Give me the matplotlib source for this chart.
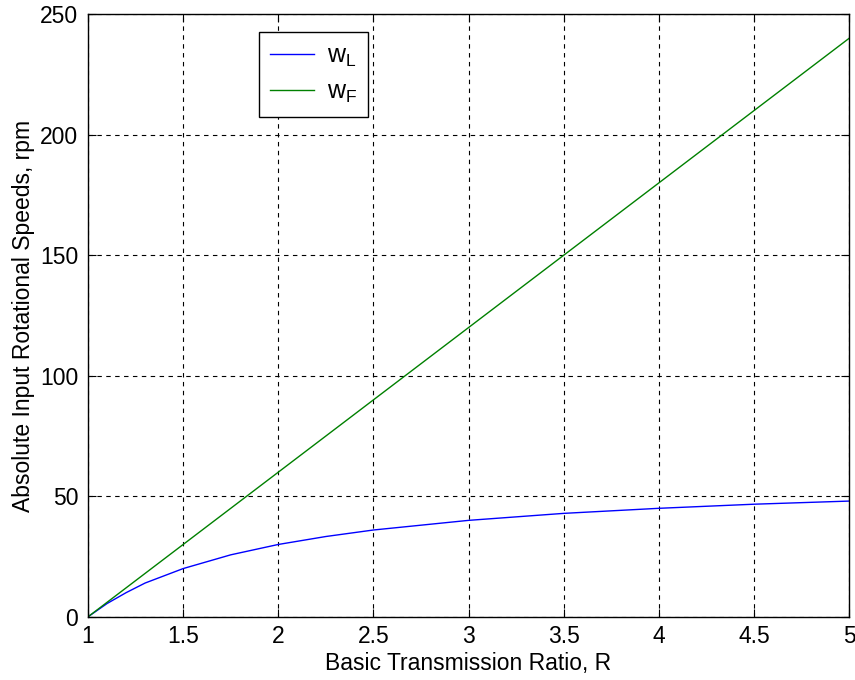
import matplotlib.pyplot as plt

plt.rcParams["font.family"] = ["Liberation Sans", "DejaVu Sans"]

R = [1.0, 1.1, 1.2, 1.3, 1.5, 1.75, 2.0, 2.25, 2.5, 3.0, 3.5, 4.0, 4.5, 5.0]
wL = [0, 5.5, 10, 14, 20, 25.7, 30, 33.3, 36, 40, 42.9, 45, 46.7, 48]
wF = [0, 6, 12, 18, 30, 45, 60, 75, 90, 120, 150, 180, 210, 240]

fs = 16.5

fig = plt.figure(figsize=(8.55, 6.8), dpi=100)
ax = fig.add_axes([0.103, 0.093, 0.890, 0.886])

ax.plot(R, wL, color="#0000ff", lw=1, label=r"w$_\mathregular{L}$")
ax.plot(R, wF, color="#008000", lw=1, label=r"w$_\mathregular{F}$")

ax.set_xlim(1, 5)
ax.set_ylim(0, 250)
ax.set_xticks([1, 1.5, 2, 2.5, 3, 3.5, 4, 4.5, 5])
ax.set_xticklabels(["1", "1.5", "2", "2.5", "3", "3.5", "4", "4.5", "5"])
ax.set_yticks([0, 50, 100, 150, 200, 250])
ax.grid(True, color="black", linestyle=(0, (4, 4)), lw=0.8)
ax.tick_params(direction="in", top=True, right=True, labelsize=fs, length=6)
ax.tick_params(axis="x", pad=6)
ax.tick_params(axis="y", pad=7)
for s in ax.spines.values():
    s.set_linewidth(1)

ax.set_xlabel("Basic Transmission Ratio, R", fontsize=fs, labelpad=3)
ax.set_ylabel("Absolute Input Rotational Speeds, rpm", fontsize=fs, labelpad=4)

leg = ax.legend(loc="upper left", bbox_to_anchor=(0.2247, 0.970), borderaxespad=0,
                fontsize=18, fancybox=False, framealpha=1, edgecolor="black",
                handlelength=1.75, handletextpad=0.5, borderpad=0.45, labelspacing=0.45)
leg.get_frame().set_linewidth(1)

fig.savefig("out.png", dpi=100)
